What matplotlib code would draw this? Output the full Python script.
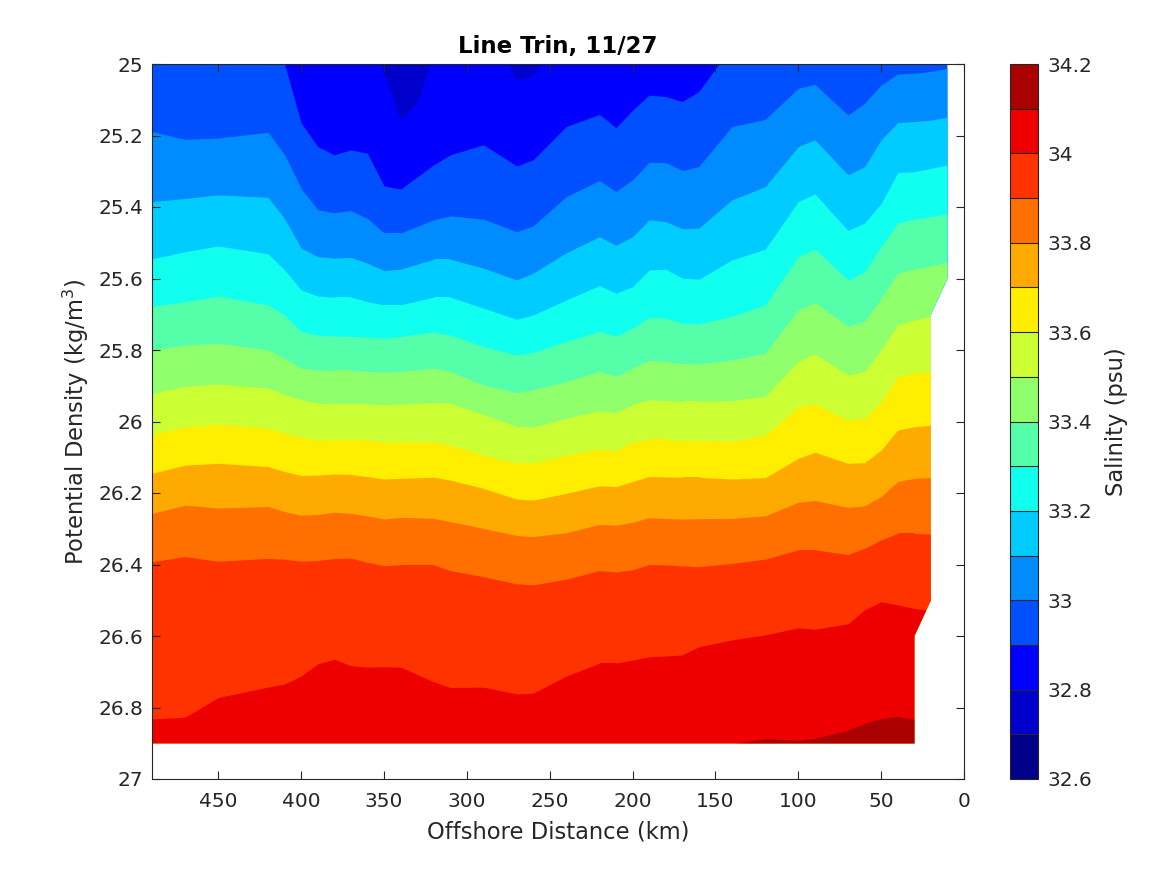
import matplotlib
matplotlib.use("Agg")
import matplotlib.pyplot as plt
from matplotlib.colors import BoundaryNorm, ListedColormap
from matplotlib.cm import ScalarMappable
from matplotlib.patches import Polygon

# salinity contour levels and the colour of each band between them
levels = [32.6, 32.7, 32.8, 32.9, 33.0, 33.1, 33.2, 33.3, 33.4, 33.5, 33.6, 33.7, 33.8, 33.9, 34.0, 34.1, 34.2]
band_colors = ["#000088", "#0000cc", "#0000ff", "#0050ff", "#008cff", "#00ccff", "#11ffee", "#55ffaa",
               "#90ff6c", "#ccff33", "#ffee00", "#ffaa00", "#ff7000", "#ff3300", "#ee0000", "#aa0000"]

# offshore distance of the stations (km)
dist = [490, 470, 450, 420, 410, 400, 390, 380, 370, 360, 350, 340, 320, 310, 290, 270, 260,
        240, 220, 210, 200, 190, 180, 170, 160, 140, 120, 100, 90, 70, 60, 50, 40, 30, 20, 10]

# potential density of each isohaline at the stations
iso_329 = [24.9, 24.9, 24.9, 24.9, 25.0, 25.165, 25.231, 25.254, 25.24, 25.25, 25.341, 25.35, 25.282, 25.254, 25.226, 25.285, 25.268,
           25.175, 25.141, 25.178, 25.129, 25.087, 25.091, 25.105, 25.077, 24.949, 24.9, 24.9, 24.9, 24.9, 24.9, 24.9, 24.9, 24.9, 24.9, 24.9]
iso_330 = [25.189, 25.211, 25.207, 25.191, 25.254, 25.348, 25.408, 25.416, 25.41, 25.432, 25.473, 25.473, 25.436, 25.425, 25.434, 25.469, 25.453,
           25.371, 25.326, 25.357, 25.324, 25.275, 25.276, 25.298, 25.287, 25.175, 25.155, 25.068, 25.057, 25.143, 25.11, 25.059, 25.028, 25.026, 25.021, 25.012]
iso_331 = [25.385, 25.376, 25.366, 25.373, 25.432, 25.515, 25.539, 25.543, 25.541, 25.557, 25.578, 25.574, 25.546, 25.546, 25.571, 25.604, 25.585,
           25.528, 25.483, 25.507, 25.483, 25.436, 25.441, 25.461, 25.459, 25.38, 25.343, 25.231, 25.212, 25.31, 25.287, 25.212, 25.164, 25.161, 25.157, 25.149]
iso_332 = [25.545, 25.525, 25.509, 25.531, 25.576, 25.632, 25.649, 25.652, 25.652, 25.665, 25.674, 25.674, 25.652, 25.652, 25.683, 25.714, 25.702,
           25.66, 25.62, 25.641, 25.623, 25.576, 25.574, 25.599, 25.602, 25.548, 25.518, 25.385, 25.363, 25.466, 25.445, 25.39, 25.304, 25.301, 25.292, 25.282]
iso_333 = [25.678, 25.665, 25.649, 25.674, 25.702, 25.748, 25.758, 25.761, 25.762, 25.764, 25.767, 25.762, 25.75, 25.758, 25.79, 25.814, 25.807,
           25.776, 25.748, 25.761, 25.739, 25.709, 25.711, 25.725, 25.727, 25.706, 25.674, 25.539, 25.518, 25.604, 25.581, 25.511, 25.445, 25.434, 25.427, 25.419]
iso_334 = [25.8, 25.786, 25.781, 25.8, 25.823, 25.851, 25.856, 25.857, 25.857, 25.86, 25.862, 25.86, 25.851, 25.86, 25.898, 25.919, 25.911,
           25.888, 25.86, 25.874, 25.851, 25.829, 25.832, 25.839, 25.839, 25.828, 25.809, 25.688, 25.667, 25.734, 25.72, 25.655, 25.585, 25.574, 25.565, 25.554]
iso_335 = [25.921, 25.902, 25.895, 25.907, 25.925, 25.939, 25.949, 25.951, 25.951, 25.951, 25.953, 25.951, 25.947, 25.949, 25.981, 26.014, 26.016,
           25.991, 25.97, 25.975, 25.953, 25.939, 25.942, 25.944, 25.944, 25.942, 25.93, 25.832, 25.811, 25.87, 25.86, 25.8, 25.73, 25.716, 25.706, 25.692]
iso_336 = [26.036, 26.015, 26.007, 26.019, 26.033, 26.044, 26.052, 26.05, 26.049, 26.052, 26.057, 26.056, 26.057, 26.066, 26.094, 26.117, 26.117,
           26.094, 26.077, 26.082, 26.057, 26.05, 26.05, 26.054, 26.054, 26.055, 26.038, 25.959, 25.951, 25.996, 25.991, 25.945, 25.875, 25.865, 25.861, 25.851]
iso_337 = [26.145, 26.122, 26.117, 26.126, 26.14, 26.151, 26.15, 26.147, 26.148, 26.154, 26.161, 26.159, 26.156, 26.164, 26.187, 26.217, 26.22,
           26.201, 26.18, 26.182, 26.168, 26.154, 26.155, 26.156, 26.156, 26.161, 26.157, 26.103, 26.086, 26.117, 26.115, 26.08, 26.024, 26.015, 26.01, 26.005]
iso_338 = [26.257, 26.234, 26.242, 26.238, 26.252, 26.262, 26.26, 26.254, 26.257, 26.264, 26.273, 26.268, 26.271, 26.28, 26.299, 26.319, 26.322,
           26.311, 26.288, 26.29, 26.282, 26.269, 26.271, 26.273, 26.272, 26.271, 26.264, 26.226, 26.221, 26.24, 26.236, 26.21, 26.168, 26.159, 26.157, 26.154]
iso_339 = [26.392, 26.378, 26.391, 26.383, 26.385, 26.391, 26.389, 26.383, 26.382, 26.394, 26.403, 26.401, 26.401, 26.417, 26.434, 26.454, 26.457,
           26.441, 26.417, 26.421, 26.415, 26.4, 26.401, 26.404, 26.406, 26.397, 26.385, 26.359, 26.359, 26.372, 26.355, 26.331, 26.313, 26.313, 26.315, 26.315]
iso_340 = [26.832, 26.827, 26.772, 26.743, 26.734, 26.712, 26.678, 26.665, 26.683, 26.687, 26.686, 26.687, 26.728, 26.744, 26.743, 26.762, 26.76,
           26.712, 26.676, 26.676, 26.667, 26.658, 26.656, 26.653, 26.63, 26.611, 26.597, 26.577, 26.581, 26.566, 26.527, 26.504, 26.513, 26.523, 26.529, 26.529]
iso_341 = [26.95, 26.95, 26.95, 26.95, 26.95, 26.95, 26.95, 26.95, 26.95, 26.95, 26.95, 26.95, 26.95, 26.95, 26.95, 26.95, 26.95,
           26.95, 26.95, 26.95, 26.95, 26.95, 26.95, 26.95, 26.95, 26.902, 26.887, 26.892, 26.886, 26.863, 26.844, 26.83, 26.825, 26.833, 26.833, 26.833]
isohalines = [iso_329, iso_330, iso_331, iso_332, iso_333, iso_334, iso_335, iso_336, iso_337, iso_338, iso_339, iso_340, iso_341]

# the two small pockets fresher than 32.8
pocket1_dist = [352, 340, 330, 322]
pocket1_dens = [25.0, 25.157, 25.105, 25.0]
pocket2_dist = [275, 270, 260, 255]
pocket2_dens = [25.0, 25.045, 25.03, 25.0]

# outline of the area that has data
edge_dist = [490, 10, 10, 20, 20, 30, 30, 490]
edge_dens = [25.0, 25.0, 25.6, 25.7, 26.5, 26.6, 26.9, 26.9]

xticks = [450, 400, 350, 300, 250, 200, 150, 100, 50, 0]
yticks = [25, 25.2, 25.4, 25.6, 25.8, 26, 26.2, 26.4, 26.6, 26.8, 27]
yticklabels = ["25", "25.2", "25.4", "25.6", "25.8", "26", "26.2", "26.4", "26.6", "26.8", "27"]
cbar_ticks = [32.6, 32.8, 33, 33.2, 33.4, 33.6, 33.8, 34, 34.2]
cbar_labels = ["32.6", "32.8", "33", "33.2", "33.4", "33.6", "33.8", "34", "34.2"]

dark = "#262626"
plt.rcParams["font.size"] = 14.5
plt.rcParams["text.color"] = dark
plt.rcParams["axes.labelcolor"] = dark
plt.rcParams["axes.edgecolor"] = dark
plt.rcParams["xtick.color"] = dark
plt.rcParams["ytick.color"] = dark

fig = plt.figure(figsize=(11.67, 8.75), dpi=100)
ax = fig.add_axes([152 / 1167, 96 / 875, 812 / 1167, 715 / 875])

outline = Polygon(list(zip(edge_dist, edge_dens)), closed=True, transform=ax.transData,
                  facecolor="none", edgecolor="none")
ax.add_patch(outline)

# paint from the top down, each band covers everything below its upper isohaline
fills = [ax.fill_between(dist, 24.9, 27, color=band_colors[2], lw=0)]
for i, iso in enumerate(isohalines):
    fills.append(ax.fill_between(dist, iso, 27, color=band_colors[i + 3], lw=0))
fills.append(ax.fill_between(pocket1_dist, 24.9, pocket1_dens, color=band_colors[1], lw=0))
fills.append(ax.fill_between(pocket2_dist, 24.9, pocket2_dens, color=band_colors[1], lw=0))
for f in fills:
    f.set_clip_path(outline)

ax.set_xlim(490, 0)
ax.set_ylim(27, 25)
ax.set_xticks(xticks)
ax.set_yticks(yticks)
ax.set_yticklabels(yticklabels)
ax.tick_params(direction="in", length=6, width=0.8, top=True, right=True)
ax.tick_params(axis="x", pad=9.5)
ax.tick_params(axis="y", pad=6.5)
ax.set_xlabel("Offshore Distance (km)", fontsize=16.3, labelpad=7)
ax.set_ylabel("Potential Density (kg/m$^3$)", fontsize=16.3, labelpad=5)
ax.set_title("Line Trin, 11/27", fontsize=16.5, fontweight="bold", pad=8, color="black")

cax = fig.add_axes([1010 / 1167, 96 / 875, 28 / 1167, 715 / 875])
norm = BoundaryNorm(levels, len(band_colors))
sm = ScalarMappable(norm=norm, cmap=ListedColormap(band_colors))
cbar = fig.colorbar(sm, cax=cax, drawedges=True, ticks=cbar_ticks, spacing="proportional")
cbar.ax.set_yticklabels(cbar_labels)
cbar.ax.minorticks_off()
cbar.ax.tick_params(length=0, pad=6.5, labelsize=14.5)
cbar.dividers.set_color(dark)
cbar.dividers.set_linewidth(0.8)
cbar.outline.set_edgecolor(dark)
cbar.outline.set_linewidth(0.8)
cbar.set_label("Salinity (psu)", fontsize=16.3, labelpad=9.5)

fig.savefig("out.png", dpi=100)
